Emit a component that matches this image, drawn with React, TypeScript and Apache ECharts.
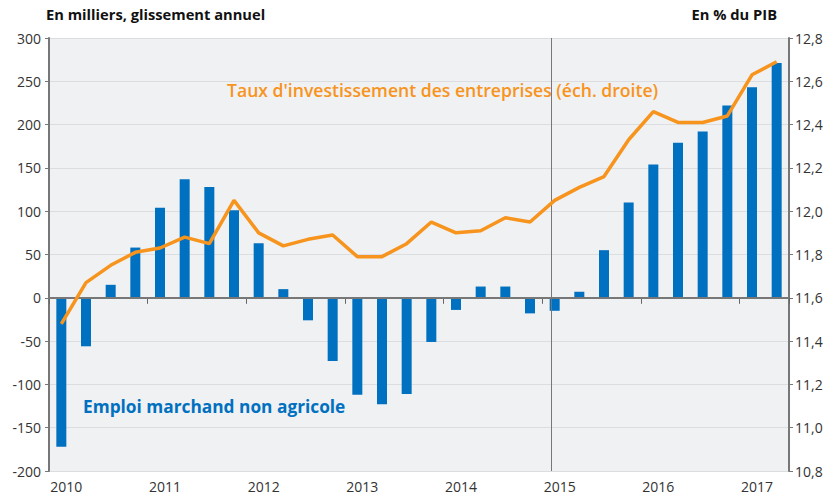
import React, { useEffect, useRef } from "react";
import * as echarts from "echarts";

const categories = [
  "2010T1", "2010T2", "2010T3", "2010T4",
  "2011T1", "2011T2", "2011T3", "2011T4",
  "2012T1", "2012T2", "2012T3", "2012T4",
  "2013T1", "2013T2", "2013T3", "2013T4",
  "2014T1", "2014T2", "2014T3", "2014T4",
  "2015T1", "2015T2", "2015T3", "2015T4",
  "2016T1", "2016T2", "2016T3", "2016T4",
  "2017T1", "2017T2",
];

// Emploi marchand non agricole, en milliers, glissement annuel
const emploi = [
  -172, -56, 15, 58,
  104, 137, 128, 101,
  63, 10, -26, -73,
  -112, -123, -111, -51,
  -14, 13, 13, -18,
  -15, 7, 55, 110,
  154, 179, 192, 222,
  243, 271,
];

// Taux d'investissement des entreprises, en % du PIB
const investissement = [
  11.48, 11.67, 11.75, 11.81,
  11.83, 11.88, 11.85, 12.05,
  11.9, 11.84, 11.87, 11.89,
  11.79, 11.79, 11.85, 11.95,
  11.9, 11.91, 11.97, 11.95,
  12.05, 12.11, 12.16, 12.33,
  12.46, 12.41, 12.41, 12.44,
  12.63, 12.69,
];

// Position of the vertical separator, in quarters from the start
const separatorPosition = 20.36;

const FONT = "'Open Sans'";
const BLUE = "#0070C0";
const ORANGE = "#F7941D";

export default function App() {
  const ref = useRef<HTMLDivElement>(null);

  useEffect(() => {
    document.body.style.margin = "0";
    if (!ref.current) return;
    const chart = echarts.init(ref.current, null, { renderer: "svg" });
    chart.setOption({
      animation: false,
      textStyle: { fontFamily: FONT },
      grid: {
        left: 49,
        right: 45,
        top: 38,
        bottom: 32,
        show: true,
        backgroundColor: "#f0f1f3",
        borderWidth: 0,
      },
      xAxis: [
        {
          type: "category",
          data: categories,
          boundaryGap: true,
          offset: 2,
          axisLine: { show: false },
          axisTick: {
            show: true,
            interval: 3,
            length: 6,
            lineStyle: { color: "#666", width: 1 },
          },
          axisLabel: {
            interval: 3,
            margin: 6,
            color: "#333",
            fontSize: 14,
            fontFamily: FONT,
            padding: [0, 0, 0, 10],
            formatter: (v: string) => v.slice(0, 4),
          },
          splitLine: { show: false },
        },
        {
          type: "value",
          min: 0,
          max: categories.length,
          show: false,
        },
      ],
      yAxis: [
        {
          type: "value",
          min: -200,
          max: 300,
          interval: 50,
          position: "left",
          axisLine: { show: true, onZero: false, lineStyle: { color: "#777", width: 2 } },
          axisTick: { show: true, length: 4, lineStyle: { color: "#777" } },
          axisLabel: { color: "#333", fontSize: 14, margin: 8, fontFamily: FONT },
          splitLine: { show: true, lineStyle: { color: "#dcdde1", width: 1 } },
        },
        {
          type: "value",
          min: 10.8,
          max: 12.8,
          interval: 0.2,
          position: "right",
          axisLine: { show: true, onZero: false, lineStyle: { color: "#777", width: 2 } },
          axisTick: { show: true, length: 4, lineStyle: { color: "#777" } },
          axisLabel: {
            color: "#333",
            fontSize: 14,
            margin: 6,
            fontFamily: FONT,
            formatter: (v: number) => v.toFixed(1).replace(".", ","),
          },
          splitLine: { show: false },
        },
      ],
      series: [
        {
          type: "bar",
          data: emploi,
          barWidth: 10,
          itemStyle: { color: BLUE },
          xAxisIndex: 0,
          yAxisIndex: 0,
          markLine: {
            silent: true,
            symbol: "none",
            label: { show: false },
            lineStyle: { color: "#777", width: 2, type: "solid" },
            data: [{ yAxis: 0 }],
          },
        },
        {
          type: "line",
          data: [],
          xAxisIndex: 1,
          yAxisIndex: 0,
          markLine: {
            silent: true,
            symbol: "none",
            label: { show: false },
            lineStyle: { color: "#777", width: 1, type: "solid" },
            data: [{ xAxis: separatorPosition }],
          },
        },
        {
          type: "line",
          data: investissement,
          xAxisIndex: 0,
          yAxisIndex: 1,
          symbol: "none",
          lineStyle: { color: ORANGE, width: 3.5 },
          z: 5,
        },
      ],
      graphic: [
        {
          type: "text",
          left: 46,
          top: 6,
          style: {
            text: "En milliers, glissement annuel",
            fill: "#111",
            font: `bold 14.7px ${FONT}`,
          },
        },
        {
          type: "text",
          right: 57,
          top: 6,
          style: {
            text: "En % du PIB",
            fill: "#111",
            font: `bold 14.7px ${FONT}`,
          },
        },
        {
          type: "text",
          left: 227,
          top: 81,
          style: {
            text: "Taux d'investissement des entreprises (éch. droite)",
            fill: ORANGE,
            font: `600 17.6px ${FONT}`,
          },
        },
        {
          type: "text",
          left: 83,
          top: 398,
          style: {
            text: "Emploi marchand non agricole",
            fill: BLUE,
            font: `bold 17.3px ${FONT}`,
          },
        },
      ],
    });
    return () => chart.dispose();
  }, []);

  return <div ref={ref} style={{ width: 834, height: 503 }} />;
}
